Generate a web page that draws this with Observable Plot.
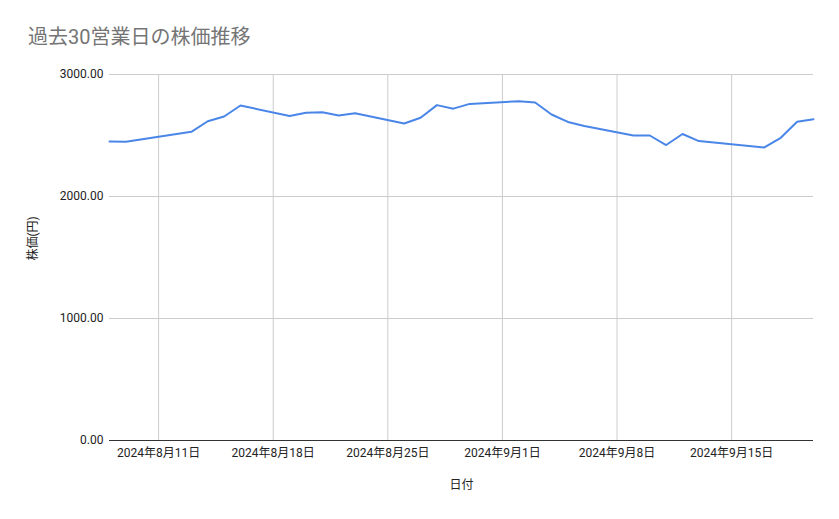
<!DOCTYPE html>
<html>
<head>
<meta charset="utf-8">
<script src="https://cdn.jsdelivr.net/npm/d3@7"></script>
<script src="https://cdn.jsdelivr.net/npm/@observablehq/plot@0.6"></script>
<style>
  body { margin: 0; background: #fff; }
  #title { height: 60px; box-sizing: border-box; padding: 26px 0 0 28px; font: 20px Roboto, "Noto Sans CJK JP", sans-serif; color: #757575; line-height: 22px; }
</style>
</head>
<body>
<div id="title">過去30営業日の株価推移</div>
<div id="chart"></div>
<script>
const dates = ["2024-08-08","2024-08-09","2024-08-13","2024-08-14","2024-08-15","2024-08-16",
  "2024-08-19","2024-08-20","2024-08-21","2024-08-22","2024-08-23",
  "2024-08-26","2024-08-27","2024-08-28","2024-08-29","2024-08-30",
  "2024-09-02","2024-09-03","2024-09-04","2024-09-05","2024-09-06",
  "2024-09-09","2024-09-10","2024-09-11","2024-09-12","2024-09-13",
  "2024-09-17","2024-09-18","2024-09-19","2024-09-20"];
const prices = [2451,2448,2530,2617,2656,2746,
  2659,2686,2691,2664,2683,
  2598,2645,2749,2720,2759,
  2781,2770,2672,2611,2578,
  2500,2500,2422,2512,2454,
  2402,2481,2612,2634];
const xTicks = ["2024-08-11","2024-08-18","2024-08-25","2024-09-01","2024-09-08","2024-09-15"];
const yTicks = [0,1000,2000,3000];
const xDomain = ["2024-08-08","2024-09-20"];

const data = dates.map((d,i) => ({date: new Date(d), price: prices[i]}));
const tickDates = xTicks.map(d => new Date(d));
const fmtDate = d => `${d.getUTCFullYear()}年${d.getUTCMonth()+1}月${d.getUTCDate()}日`;

const chart = Plot.plot({
  width: 839,
  height: 459,
  marginTop: 14,
  marginBottom: 79,
  marginLeft: 109,
  marginRight: 26,
  style: {fontFamily: "Roboto, 'Noto Sans CJK JP', sans-serif", fontSize: "12px", color: "#222", background: "#fff"},
  x: {type: "utc", domain: xDomain.map(d => new Date(d))},
  y: {domain: [0, 3000]},
  marks: [
    Plot.gridX(tickDates, {stroke: "#cccccc", strokeOpacity: 1}),
    Plot.gridY(yTicks.filter(v => v > 0), {stroke: "#cccccc", strokeOpacity: 1}),
    Plot.ruleY([0], {stroke: "#333"}),
    Plot.lineY(data, {x: "date", y: "price", stroke: "#4a86e8", strokeWidth: 2}),
    Plot.axisX(tickDates, {tickSize: 0, tickPadding: 8, tickFormat: fmtDate, label: null}),
    Plot.axisY(yTicks, {tickSize: 0, tickPadding: 6, tickFormat: d3.format(".2f"), label: null}),
    Plot.text(["日付"], {frameAnchor: "bottom", dy: 48, text: d => d, fill: "#222"}),
    Plot.text(["株価(円)"], {frameAnchor: "left", dx: -76, dy: 3, rotate: -90, text: d => d, fill: "#222"})
  ]
});
document.getElementById("chart").appendChild(chart);
</script>
</body>
</html>
